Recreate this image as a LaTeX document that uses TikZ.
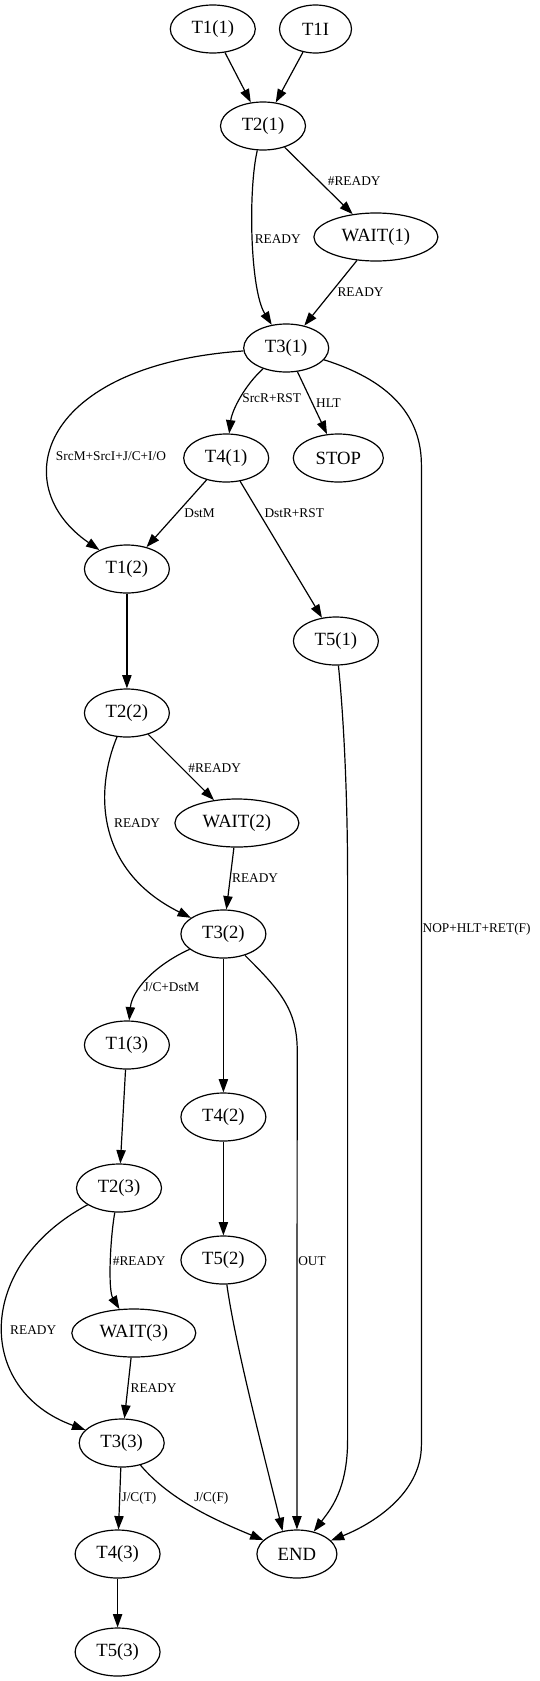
\documentclass[tikz,border=0pt]{standalone}
\usepackage{fontspec}
\setmainfont{Liberation Serif}
\usetikzlibrary{arrows.meta, shapes.geometric}

\tikzset{
  state/.style={ellipse, draw, minimum width=63.75pt, minimum height=36pt, inner sep=0pt,
    font=\fontsize{14pt}{16pt}\selectfont},
  lbl/.style={inner sep=1pt, font=\fontsize{10pt}{12pt}\selectfont},
}

\begin{document}
\begin{tikzpicture}[x=0.75pt, y=-0.75pt, line width=0.9pt, >={Triangle[length=10pt,width=7pt]}]
  \useasboundingbox (0,0) rectangle (539,1681);

  % First fetch cycle
  \node[state] (t11) at (212.8,29) {T1(1)};
  \node[state, minimum width=54pt] (t1i) at (315.5,29) {T1I};
  \node[state] (t21) at (263,126) {T2(1)};
  \node[state, minimum width=93pt] (w1) at (375.9,237) {WAIT(1)};
  \node[state] (t31) at (286.2,348) {T3(1)};
  \node[state] (t41) at (226.2,458) {T4(1)};
  \node[state, minimum width=67.5pt] (stop) at (338.3,458) {STOP};
  \node[state] (t51) at (335.9,641) {T5(1)};

  % Second cycle
  \node[state] (t12) at (126.9,569) {T1(2)};
  \node[state] (t22) at (126.9,713) {T2(2)};
  \node[state, minimum width=93pt] (w2) at (236.9,823) {WAIT(2)};
  \node[state] (t32) at (223.4,934) {T3(2)};
  \node[state] (t42) at (223.4,1117) {T4(2)};
  \node[state] (t52) at (223.4,1260) {T5(2)};

  % Third cycle
  \node[state] (t13) at (126.9,1045) {T1(3)};
  \node[state] (t23) at (119,1188) {T2(3)};
  \node[state, minimum width=93pt] (w3) at (133.8,1333) {WAIT(3)};
  \node[state] (t33) at (121.7,1443) {T3(3)};
  \node[state] (t43) at (117.6,1554) {T4(3)};
  \node[state] (t53) at (117.6,1652) {T5(3)};
  \node[state, minimum width=60pt] (endn) at (296.9,1554) {END};

  % Edges of the first cycle
  \draw[->] (t11) -- (t21);
  \draw[->] (t1i) -- (t21);
  \draw[->] (t21) -- node[lbl, pos=.5, right=5.5pt] {\#READY} (w1);
  \draw[->] (t21) .. controls (248,190) and (250,290) .. node[lbl, pos=.5, right] {READY} (t31);
  \draw[->] (w1) -- node[lbl, pos=.48, right=3pt] {READY} (t31);
  \draw[->] (t31) .. controls (40,365) and (5,485) .. node[lbl, pos=.6, right=2.5pt] {SrcM+SrcI+J/C+I/O} (t12);
  \draw[->] (t31) .. controls (245,385) and (232,410) .. node[lbl, pos=.5, right] {SrcR+RST} (t41);
  \draw[->] (t31) -- node[lbl, pos=.5, right=1.5pt] {HLT} (stop);
  \draw[->] (t31) .. controls (395,382) and (421.4,420) .. (421.4,465)
    -- node[lbl, pos=.474, right, inner sep=.5pt] {NOP+HLT+RET(F)} (421.4,1445)
    .. controls (421.4,1495) and (370,1525) .. (endn);
  \draw[->] (t41) -- node[lbl, pos=.49, right=4pt] {DstM} (t12);
  \draw[->] (t41) -- node[lbl, pos=.234, right=2.5pt] {DstR+RST} (t51);
  \draw[->] (t51) .. controls (344,720) and (347.6,800) .. (347.6,880)
    -- (347.6,1440) .. controls (347.6,1490) and (330,1510) .. (endn);

  % Edges of the second cycle
  \draw[->] (t12) -- (t22);
  \draw[->] (t22) -- node[lbl, pos=.51, right=3.5pt] {\#READY} (w2);
  \draw[->] (t22) .. controls (95,790) and (95,870) .. node[lbl, pos=.47, right=3pt] {READY} (t32);
  \draw[->] (w2) -- node[lbl, pos=.49, right] {READY} (t32);
  \draw[->] (t32) .. controls (155,965) and (132,990) .. node[lbl, pos=.6, right] {J/C+DstM} (t13);
  \draw[->] (t32) -- (t42);
  \draw[->] (t32) .. controls (280,990) and (297.2,1010) .. (297.2,1050)
    -- node[lbl, pos=.44, right, inner sep=.5pt] {OUT} (endn);
  \draw[->] (t42) -- (t52);
  \draw[->] (t52) .. controls (236,1350) and (268,1470) .. (endn.122);

  % Edges of the third cycle
  \draw[->] (t13) -- (t23);
  \draw[->] (t23) .. controls (110,1240) and (108,1290) .. node[lbl, pos=.47, right] {\#READY} (w3);
  \draw[->] (t23) .. controls (-25,1265) and (-25,1390) .. node[lbl, pos=.52, right=4pt] {READY} (t33);
  \draw[->] (w3) -- node[lbl, pos=.5, right=.7pt] {READY} (t33);
  \draw[->] (t33) -- node[lbl, pos=.5, right] {J/C(T)} (t43);
  \draw[->] (t33) .. controls (170,1500) and (215,1520) .. node[lbl, pos=.48, above right] {J/C(F)} (endn);
  \draw[->] (t43) -- (t53);
\end{tikzpicture}
\end{document}
